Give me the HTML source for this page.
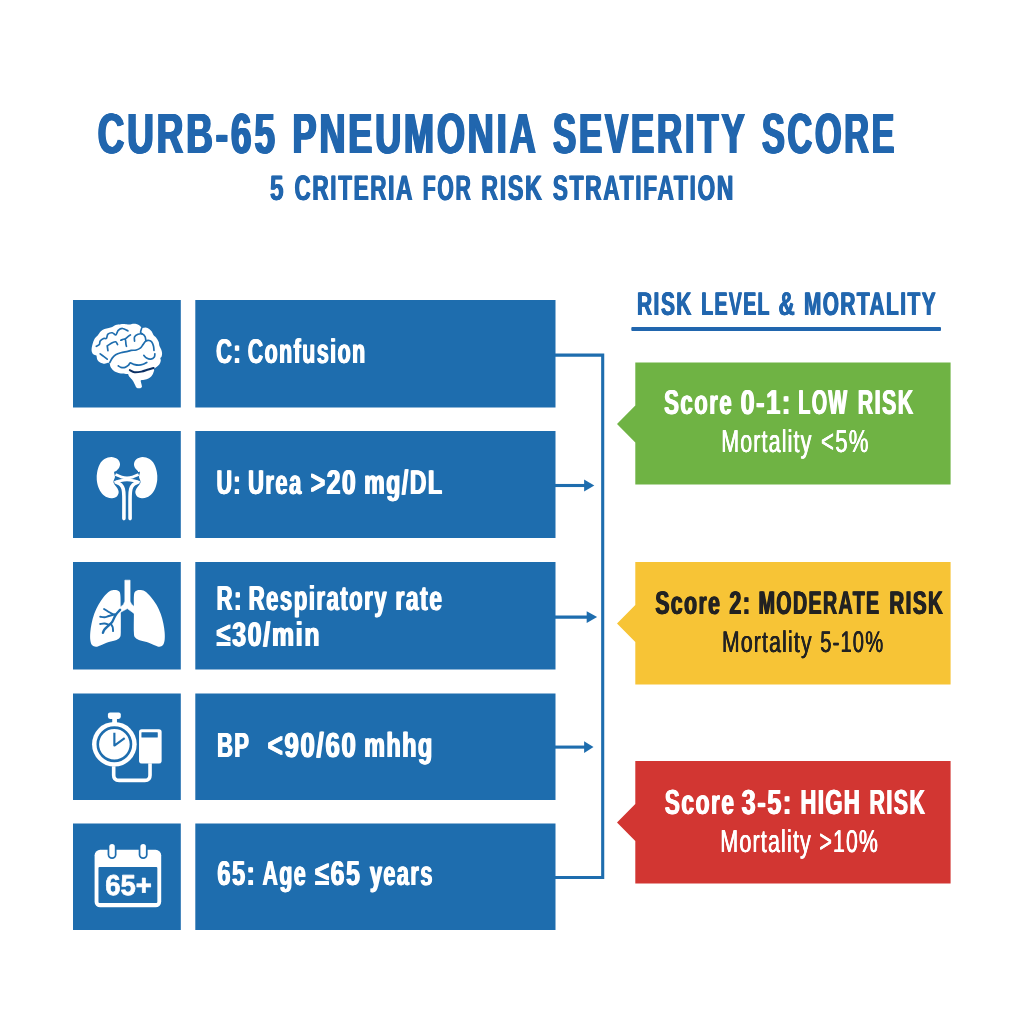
<!DOCTYPE html>
<html lang="en">
<head>
<meta charset="utf-8">
<title>CURB-65 Pneumonia Severity Score</title>
<style>
html,body{margin:0;padding:0;background:#fff;}
body{width:1024px;height:1024px;overflow:hidden;}
svg{display:block;font-family:"Liberation Sans",sans-serif;text-rendering:geometricPrecision;}
</style>
</head>
<body>
<svg width="1024" height="1024" viewBox="0 0 1024 1024">
<rect x="73" y="300" width="107.8" height="107.5" fill="#1e6dae"/>
<rect x="195.3" y="300" width="360.2" height="107.5" fill="#1e6dae"/>
<rect x="73" y="431" width="107.8" height="107" fill="#1e6dae"/>
<rect x="195.3" y="431" width="360.2" height="107" fill="#1e6dae"/>
<rect x="73" y="562" width="107.8" height="107.5" fill="#1e6dae"/>
<rect x="195.3" y="562" width="360.2" height="107.5" fill="#1e6dae"/>
<rect x="73" y="693.5" width="107.8" height="106.5" fill="#1e6dae"/>
<rect x="195.3" y="693.5" width="360.2" height="106.5" fill="#1e6dae"/>
<rect x="73" y="823.5" width="107.8" height="106.5" fill="#1e6dae"/>
<rect x="195.3" y="823.5" width="360.2" height="106.5" fill="#1e6dae"/>
<path d="M555 355.15 H602.7 V877.5 H555" fill="none" stroke="#1e6dae" stroke-width="3.1"/>
<path d="M555 485.5 H585.1" fill="none" stroke="#1e6dae" stroke-width="3.1"/>
<path d="M594.3 485.5 L584.1 479.6 V491.4 Z" fill="#1e6dae"/>
<path d="M555 617.1 H587.7" fill="none" stroke="#1e6dae" stroke-width="3.1"/>
<path d="M597.1 617.1 L586.7 611.2 V623.0 Z" fill="#1e6dae"/>
<path d="M555 747.1 H585.1" fill="none" stroke="#1e6dae" stroke-width="3.1"/>
<path d="M593.5 747.1 L584.1 741.2 V753.0 Z" fill="#1e6dae"/>
<rect x="631.3" y="327.1" width="309.7" height="3.8" rx="1" fill="#2166ae"/>
<path d="M635.3 362.5 H950.6 V484.5 H635.3 V442.5 L617 424 L635.3 405.5 Z" fill="#6fb344"/>
<path d="M635.3 562 H950.6 V684.5 H635.3 V642.0 L617 623.5 L635.3 605.0 Z" fill="#f7c436"/>
<path d="M635.3 761 H950.6 V883.5 H635.3 V841.0 L617 822.5 L635.3 804.0 Z" fill="#d23632"/>
<path d="M91.59 350.39 C91.45 348.74 91.95 346.31 92.45 344.38 C92.95 342.44 93.67 340.36 94.60 338.79 C95.53 337.21 97.04 336.14 98.04 334.92 C99.04 333.70 99.54 332.46 100.62 331.48 C101.69 330.51 103.12 329.65 104.48 329.08 C105.85 328.51 107.49 328.39 108.78 328.05 C110.07 327.70 111.07 327.52 112.22 327.02 C113.36 326.51 114.22 325.51 115.66 325.04 C117.09 324.57 119.09 324.32 120.81 324.18 C122.53 324.04 124.54 324.11 125.97 324.18 C127.40 324.25 128.26 324.68 129.41 324.61 C130.55 324.54 131.55 323.82 132.84 323.75 C134.13 323.68 135.92 323.82 137.14 324.18 C138.36 324.54 139.36 325.25 140.15 325.90 C140.94 326.54 140.94 327.76 141.87 328.05 C142.80 328.33 144.52 327.47 145.73 327.62 C146.95 327.76 148.17 328.26 149.17 328.91 C150.17 329.55 151.03 330.48 151.75 331.48 C152.47 332.49 152.75 333.92 153.47 334.92 C154.18 335.92 155.19 336.35 156.05 337.50 C156.91 338.65 158.05 340.36 158.62 341.80 C159.20 343.23 159.05 344.80 159.48 346.09 C159.91 347.38 160.77 348.39 161.20 349.53 C161.63 350.68 161.99 351.82 162.06 352.97 C162.13 354.11 161.92 355.55 161.63 356.41 C161.35 357.27 160.49 357.41 160.34 358.12 C160.20 358.84 160.92 359.70 160.77 360.70 C160.63 361.71 160.13 363.14 159.48 364.14 C158.84 365.14 157.84 365.93 156.91 366.72 C155.98 367.51 154.36 368.22 153.90 368.87 C153.44 369.51 154.37 369.65 154.16 370.59 C153.94 371.52 153.30 373.31 152.61 374.45 C151.92 375.60 151.03 376.67 150.03 377.46 C149.03 378.25 147.88 378.75 146.59 379.18 C145.30 379.61 143.27 379.80 142.30 380.04 C141.32 380.28 140.89 380.00 140.75 380.64 C140.61 381.29 141.25 382.86 141.44 383.91 C141.62 384.95 142.15 386.20 141.87 386.91 C141.58 387.63 140.58 388.06 139.72 388.20 C138.86 388.35 137.57 388.49 136.71 387.77 C135.85 387.06 135.35 385.27 134.56 383.91 C133.77 382.55 132.92 380.90 131.98 379.61 C131.05 378.32 129.62 377.06 128.98 376.17 C128.33 375.28 128.62 374.64 128.12 374.28 C127.62 373.92 127.19 374.14 125.97 374.02 C124.75 373.91 122.39 373.88 120.81 373.59 C119.24 373.31 117.80 372.88 116.52 372.30 C115.23 371.73 114.08 371.09 113.08 370.16 C112.08 369.23 111.07 367.84 110.50 366.72 C109.93 365.60 110.07 364.10 109.64 363.45 C109.21 362.81 108.78 362.81 107.92 362.85 C107.06 362.89 105.77 363.78 104.48 363.71 C103.20 363.64 101.33 362.99 100.19 362.42 C99.04 361.85 98.18 361.13 97.61 360.27 C97.04 359.41 96.96 358.05 96.75 357.27 C96.54 356.48 96.89 356.05 96.32 355.55 C95.75 355.05 94.10 355.12 93.31 354.26 C92.52 353.40 91.74 352.04 91.59 350.39Z" fill="#ffffff"/>
<path d="M109.81 362.59 C110.21 361.85 111.24 359.44 112.22 358.12 C113.19 356.81 114.22 355.59 115.66 354.69 C117.09 353.79 118.81 353.26 120.81 352.71 C122.82 352.17 125.97 351.81 127.69 351.42 C129.41 351.04 129.69 350.63 131.12 350.39 C132.56 350.15 134.71 350.39 136.28 349.96 C137.86 349.53 139.43 348.74 140.58 347.81 C141.72 346.88 142.30 345.49 143.16 344.38 C144.02 343.26 144.73 341.75 145.73 341.11 C146.74 340.46 148.17 340.36 149.17 340.51 C150.17 340.65 151.03 341.04 151.75 341.97 C152.47 342.90 153.10 344.69 153.47 346.09 C153.84 347.50 153.90 349.67 153.98 350.39" fill="none" stroke="#1e6dae" stroke-width="1.7" stroke-linecap="round" stroke-linejoin="round"/>
<path d="M143.84 355.38 C144.30 355.83 145.42 357.49 146.59 358.12 C147.77 358.76 149.60 359.34 150.89 359.16 C152.18 358.97 153.67 357.90 154.33 357.01 C154.99 356.12 154.76 354.36 154.84 353.83" fill="none" stroke="#1e6dae" stroke-width="1.7" stroke-linecap="round" stroke-linejoin="round"/>
<path d="M118.23 365.86 C118.66 366.10 119.67 367.08 120.81 367.32 C121.96 367.56 123.82 367.68 125.11 367.32 C126.40 366.96 127.69 365.92 128.55 365.17 C129.41 364.43 129.41 362.99 130.27 362.85 C131.12 362.71 132.27 363.93 133.70 364.31 C135.14 364.70 137.28 365.17 138.86 365.17 C140.43 365.17 141.84 364.77 143.16 364.31 C144.47 363.85 146.16 362.74 146.77 362.42" fill="none" stroke="#1e6dae" stroke-width="1.7" stroke-linecap="round" stroke-linejoin="round"/>
<path d="M96.32 346.27 C96.82 345.98 98.68 345.41 99.33 344.55 C99.97 343.69 99.47 342.11 100.19 341.11 C100.90 340.11 102.59 338.99 103.62 338.53 C104.66 338.07 105.66 339.08 106.38 338.36 C107.09 337.64 106.95 335.17 107.92 334.23 C108.90 333.30 110.90 332.66 112.22 332.77 C113.54 332.89 114.83 335.32 115.83 334.92 C116.83 334.52 117.12 331.44 118.23 330.37 C119.35 329.29 120.93 328.40 122.53 328.48 C124.14 328.55 126.97 330.41 127.86 330.80" fill="none" stroke="#1e6dae" stroke-width="1.7" stroke-linecap="round" stroke-linejoin="round"/>
<path d="M107.23 345.92 L107.92 350.56" fill="none" stroke="#1e6dae" stroke-width="1.7" stroke-linecap="round" stroke-linejoin="round"/>
<path d="M107.92 345.41 C108.64 344.98 110.93 343.43 112.22 342.83 C113.51 342.23 114.77 341.51 115.66 341.80 C116.54 342.08 117.23 344.09 117.55 344.55" fill="none" stroke="#1e6dae" stroke-width="1.7" stroke-linecap="round" stroke-linejoin="round"/>
<path d="M120.81 340.25 C121.53 340.08 124.25 338.53 125.11 339.22 C125.97 339.91 125.74 343.20 125.97 344.38 C126.20 345.55 126.40 345.95 126.48 346.27" fill="none" stroke="#1e6dae" stroke-width="1.7" stroke-linecap="round" stroke-linejoin="round"/>
<path d="M125.11 339.22 C125.54 338.82 126.80 337.53 127.69 336.81 C128.58 336.10 129.98 335.24 130.44 334.92" fill="none" stroke="#1e6dae" stroke-width="1.7" stroke-linecap="round" stroke-linejoin="round"/>
<path d="M134.56 341.11 C134.56 340.39 133.99 337.96 134.56 336.81 C135.14 335.67 136.71 334.69 138.00 334.23 C139.29 333.78 141.12 333.66 142.30 334.06 C143.47 334.46 144.45 335.49 145.05 336.64 C145.65 337.79 145.76 340.22 145.91 340.94" fill="none" stroke="#1e6dae" stroke-width="1.7" stroke-linecap="round" stroke-linejoin="round"/>
<path d="M141.61 328.48 C141.44 329.12 140.46 331.41 140.58 332.34 C140.69 333.27 142.01 333.78 142.30 334.06" fill="none" stroke="#1e6dae" stroke-width="1.7" stroke-linecap="round" stroke-linejoin="round"/>
<path d="M100.19 353.83 C100.76 354.26 102.45 355.52 103.62 356.41 C104.80 357.29 106.63 358.70 107.23 359.16" fill="none" stroke="#1e6dae" stroke-width="1.7" stroke-linecap="round" stroke-linejoin="round"/>
<path d="M129.84 370.16 C130.62 370.51 132.63 372.06 134.56 372.30 C136.50 372.55 139.15 372.09 141.44 371.62 C143.73 371.14 146.28 370.08 148.31 369.47 C150.35 368.85 152.75 368.18 153.64 367.92" fill="none" stroke="#0b2f63" stroke-width="2" stroke-linecap="round"/>
<path d="M111.36 456.90 C113.51 456.90 115.94 457.94 117.38 459.05 C118.81 460.15 119.67 462.05 119.95 463.52 C120.24 464.98 119.67 466.62 119.09 467.81 C118.52 469.00 117.35 469.93 116.52 470.65 C115.68 471.36 114.37 471.04 114.11 472.11 C113.85 473.18 115.07 475.38 114.97 477.09 C114.87 478.81 113.11 480.56 113.51 482.42 C113.91 484.28 116.52 486.58 117.38 488.27 C118.23 489.96 118.81 491.13 118.66 492.56 C118.52 493.99 117.59 495.93 116.52 496.86 C115.44 497.79 113.79 498.08 112.22 498.15 C110.64 498.22 108.78 498.08 107.06 497.29 C105.34 496.50 103.34 495.07 101.91 493.42 C100.47 491.77 99.33 489.70 98.47 487.41 C97.61 485.11 96.96 482.25 96.75 479.67 C96.54 477.09 96.68 474.52 97.18 471.94 C97.68 469.36 98.54 466.35 99.76 464.20 C100.98 462.05 102.55 460.26 104.48 459.05 C106.42 457.83 109.21 456.90 111.36 456.90Z" fill="#ffffff"/>
<path d="M142.64 456.90 C140.49 456.90 138.06 457.94 136.62 459.05 C135.19 460.15 134.33 462.05 134.05 463.52 C133.76 464.98 134.33 466.62 134.91 467.81 C135.48 469.00 136.65 469.93 137.48 470.65 C138.32 471.36 139.63 471.04 139.89 472.11 C140.15 473.18 138.93 475.38 139.03 477.09 C139.13 478.81 140.89 480.56 140.49 482.42 C140.09 484.28 137.48 486.58 136.62 488.27 C135.77 489.96 135.19 491.13 135.34 492.56 C135.48 493.99 136.41 495.93 137.48 496.86 C138.56 497.79 140.21 498.08 141.78 498.15 C143.36 498.22 145.22 498.08 146.94 497.29 C148.66 496.50 150.66 495.07 152.09 493.42 C153.53 491.77 154.67 489.70 155.53 487.41 C156.39 485.11 157.04 482.25 157.25 479.67 C157.46 477.09 157.32 474.52 156.82 471.94 C156.32 469.36 155.46 466.35 154.24 464.20 C153.02 462.05 151.45 460.26 149.52 459.05 C147.58 457.83 144.79 456.90 142.64 456.90Z" fill="#ffffff"/>
<path d="M115.48 474.52 C116.52 474.95 119.75 476.55 121.67 477.09 C123.59 477.64 125.21 477.78 127.00 477.78 C128.79 477.78 130.48 477.64 132.41 477.09 C134.35 476.55 137.57 474.95 138.60 474.52" fill="none" stroke="#ffffff" stroke-width="2.8" stroke-linecap="butt"/>
<path d="M114.45 482.59 C115.51 482.25 118.72 480.99 120.81 480.53 C122.90 480.07 124.92 479.84 127.00 479.84 C129.08 479.84 131.17 480.07 133.27 480.53 C135.38 480.99 138.57 482.25 139.63 482.59" fill="none" stroke="#ffffff" stroke-width="2.8" stroke-linecap="butt"/>
<path d="M116.95 482.42 C117.59 482.79 119.77 483.57 120.81 484.66 C121.86 485.74 122.70 487.06 123.22 488.95 C123.73 490.84 123.79 491.06 123.91 496.00 C124.02 500.94 123.91 514.83 123.91 518.60" fill="none" stroke="#ffffff" stroke-width="3.6" stroke-linecap="round"/>
<path d="M137.05 482.42 C136.41 482.79 134.23 483.57 133.19 484.66 C132.14 485.74 131.30 487.06 130.78 488.95 C130.27 490.84 130.21 491.06 130.09 496.00 C129.98 500.94 130.09 514.83 130.09 518.60" fill="none" stroke="#ffffff" stroke-width="3.6" stroke-linecap="round"/>
<path d="M114.80 590.05 C116.34 590.05 117.99 590.48 118.92 591.34 C119.85 592.20 120.10 592.70 120.38 595.20 C120.67 597.71 120.57 603.08 120.64 606.38 C120.71 609.67 120.78 610.67 120.81 614.97 C120.84 619.27 120.96 628.43 120.81 632.16 C120.67 635.88 120.67 636.02 119.95 637.31 C119.24 638.60 118.38 639.10 116.52 639.89 C114.65 640.68 111.50 641.11 108.78 642.04 C106.06 642.97 102.34 644.69 100.19 645.48 C98.04 646.26 97.25 646.84 95.89 646.77 C94.53 646.69 92.95 646.19 92.02 645.05 C91.09 643.90 90.59 642.04 90.30 639.89 C90.02 637.74 90.09 634.88 90.30 632.16 C90.52 629.43 90.95 626.57 91.59 623.56 C92.24 620.55 93.03 617.26 94.17 614.11 C95.32 610.96 96.89 607.52 98.47 604.66 C100.04 601.79 101.76 599.14 103.62 596.92 C105.49 594.70 107.78 592.48 109.64 591.34 C111.50 590.19 113.25 590.05 114.80 590.05Z" fill="#ffffff"/>
<path d="M139.72 590.05 C138.17 590.05 136.55 590.48 135.59 591.34 C134.63 592.20 134.25 592.70 133.96 595.20 C133.67 597.71 133.89 603.08 133.88 606.38 C133.86 609.67 133.88 610.67 133.88 614.97 C133.88 619.27 133.69 628.43 133.88 632.16 C134.06 635.88 134.16 636.02 134.99 637.31 C135.82 638.60 136.93 639.10 138.86 639.89 C140.79 640.68 143.87 641.11 146.59 642.04 C149.32 642.97 153.04 644.69 155.19 645.48 C157.34 646.26 158.20 646.84 159.48 646.77 C160.77 646.69 162.06 646.19 162.92 645.05 C163.78 643.90 164.35 642.04 164.64 639.89 C164.93 637.74 164.86 634.88 164.64 632.16 C164.43 629.43 164.00 626.57 163.35 623.56 C162.71 620.55 161.92 617.26 160.77 614.11 C159.63 610.96 158.12 607.52 156.48 604.66 C154.83 601.79 152.82 599.14 150.89 596.92 C148.96 594.70 146.74 592.48 144.88 591.34 C143.01 590.19 141.27 590.05 139.72 590.05Z" fill="#ffffff"/>
<path d="M124.85 580.16 L130.09 580.16 L130.09 601.22 L131.30 603.97 L134.13 606.55 L134.13 613.42 L127.34 608.61 L120.12 612.56 L119.78 607.41 L123.39 604.66 L124.85 601.22Z" fill="#ffffff" stroke="#ffffff" stroke-width="0.6" stroke-linejoin="round"/>
<path d="M120.12 609.81 C119.38 610.67 116.97 612.96 115.66 614.97 C114.34 616.97 113.36 620.12 112.22 621.84 C111.07 623.56 110.07 623.99 108.78 625.28 C107.49 626.57 105.46 628.32 104.48 629.58 C103.51 630.84 103.20 632.30 102.94 632.84" fill="none" stroke="#1e6dae" stroke-width="2.4" stroke-linecap="round"/>
<path d="M113.08 614.28 C112.29 613.85 109.86 612.59 108.35 611.70 C106.85 610.82 104.77 609.41 104.05 608.95" fill="none" stroke="#1e6dae" stroke-width="1.9" stroke-linecap="round"/>
<path d="M114.97 614.28 C113.94 614.57 110.53 615.51 108.78 616.00 C107.03 616.49 105.92 617.09 104.48 617.20 C103.05 617.32 100.90 616.77 100.19 616.69" fill="none" stroke="#1e6dae" stroke-width="1.9" stroke-linecap="round"/>
<path d="M108.78 624.59 C108.07 624.42 105.92 623.66 104.48 623.56 C103.05 623.46 100.90 623.92 100.19 623.99" fill="none" stroke="#1e6dae" stroke-width="1.9" stroke-linecap="round"/>
<path d="M110.67 623.73 C111.00 624.28 112.25 625.77 112.65 627.00 C113.05 628.23 113.01 630.44 113.08 631.12" fill="none" stroke="#1e6dae" stroke-width="1.9" stroke-linecap="round"/>
<circle cx="114.37" cy="744.25" r="22.34" fill="#ffffff"/>
<circle cx="114.37" cy="744.25" r="16.59" fill="none" stroke="#1e6dae" stroke-width="2.58"/>
<rect x="107.92" y="712.45" width="12.89" height="6.45" rx="2.15" fill="#ffffff"/>
<rect x="112.22" y="717.61" width="4.73" height="6.02" fill="#ffffff"/>
<path d="M114.37 732.65 L114.37 745.54 L124.68 738.23" fill="none" stroke="#1e6dae" stroke-width="2.15" stroke-linejoin="round"/>
<rect x="139.03" y="729.21" width="22.60" height="34.38" rx="2.75" fill="#ffffff"/>
<rect x="141.44" y="732.22" width="16.33" height="5.33" rx="0.52" fill="#1e6dae"/>
<path d="M113.68 766.16 L113.68 775.19 Q113.68 780.34 119.09 780.34 L144.88 780.34 Q150.03 780.34 150.03 775.19 L150.03 763.16" fill="none" stroke="#ffffff" stroke-width="3.61"/>
<rect x="94.60" y="849.76" width="66.60" height="57.58" rx="5.59" fill="#ffffff"/>
<rect x="98.47" y="866.95" width="58.87" height="36.09" rx="1.03" fill="#1e6dae"/>
<rect x="107.58" y="843.74" width="8.94" height="15.30" rx="4.47" fill="#1e6dae"/>
<rect x="109.30" y="844.00" width="5.50" height="13.32" rx="2.75" fill="#ffffff"/>
<rect x="138.69" y="843.74" width="8.94" height="15.30" rx="4.47" fill="#1e6dae"/>
<rect x="140.41" y="844.00" width="5.50" height="13.32" rx="2.75" fill="#ffffff"/>
<text x="105.22" y="894.58" font-size="28.8" font-weight="bold" fill="#ffffff" stroke="#ffffff" stroke-width="0.7" stroke-linejoin="round" textLength="46.73" lengthAdjust="spacingAndGlyphs">65+</text>
<text y="153" font-size="56.58" font-weight="bold" fill="#2166ae" style="letter-spacing:4.6px;text-shadow:1.55px 0 0 #2166ae,-1.55px 0 0 #2166ae,0.78px 0 0 #2166ae,-0.78px 0 0 #2166ae"><tspan x="97.75" textLength="180.19" lengthAdjust="spacingAndGlyphs">CURB-65</tspan> <tspan x="292.55" textLength="244.65" lengthAdjust="spacingAndGlyphs">PNEUMONIA</tspan> <tspan x="553.00" textLength="193.82" lengthAdjust="spacingAndGlyphs">SEVERITY</tspan> <tspan x="762.00" textLength="135.22" lengthAdjust="spacingAndGlyphs">SCORE</tspan></text>
<text y="200" font-size="35.35" font-weight="bold" fill="#2166ae" style="letter-spacing:2.6px;text-shadow:0.90px 0 0 #2166ae,-0.90px 0 0 #2166ae"><tspan x="270.00" textLength="15.29" lengthAdjust="spacingAndGlyphs">5</tspan> <tspan x="294.50" textLength="118.64" lengthAdjust="spacingAndGlyphs">CRITERIA</tspan> <tspan x="422.75" textLength="49.63" lengthAdjust="spacingAndGlyphs">FOR</tspan> <tspan x="481.25" textLength="62.33" lengthAdjust="spacingAndGlyphs">RISK</tspan> <tspan x="552.75" textLength="182.22" lengthAdjust="spacingAndGlyphs">STRATIFATION</tspan></text>
<text y="363" font-size="34.33" font-weight="bold" fill="#fff" style="letter-spacing:2.4px;text-shadow:1.00px 0 0 #fff,-1.00px 0 0 #fff"><tspan x="216.05" textLength="26.19" lengthAdjust="spacingAndGlyphs">C:</tspan> <tspan x="247.75" textLength="118.80" lengthAdjust="spacingAndGlyphs">Confusion</tspan></text>
<text y="494" font-size="34.33" font-weight="bold" fill="#fff" style="letter-spacing:2.4px;text-shadow:1.00px 0 0 #fff,-1.00px 0 0 #fff"><tspan x="216.60" textLength="25.46" lengthAdjust="spacingAndGlyphs">U:</tspan> <tspan x="248.10" textLength="54.76" lengthAdjust="spacingAndGlyphs">Urea</tspan> <tspan x="310.70" textLength="46.73" lengthAdjust="spacingAndGlyphs">&gt;20</tspan> <tspan x="364.25" textLength="79.32" lengthAdjust="spacingAndGlyphs">mg/DL</tspan></text>
<text y="610" font-size="34.62" font-weight="bold" fill="#fff" style="letter-spacing:2.4px;text-shadow:1.00px 0 0 #fff,-1.00px 0 0 #fff"><tspan x="216.70" textLength="26.23" lengthAdjust="spacingAndGlyphs">R:</tspan> <tspan x="248.75" textLength="139.33" lengthAdjust="spacingAndGlyphs">Respiratory</tspan> <tspan x="395.50" textLength="48.13" lengthAdjust="spacingAndGlyphs">rate</tspan></text>
<text y="646" font-size="34.04" font-weight="bold" fill="#fff" style="letter-spacing:2.4px;text-shadow:1.00px 0 0 #fff,-1.00px 0 0 #fff"><tspan x="216.85" textLength="104.42" lengthAdjust="spacingAndGlyphs">≤30/min</tspan></text>
<text y="757" font-size="34.91" font-weight="bold" fill="#fff" style="letter-spacing:2.4px;text-shadow:1.00px 0 0 #fff,-1.00px 0 0 #fff"><tspan x="217.05" textLength="32.90" lengthAdjust="spacingAndGlyphs">BP</tspan> <tspan x="267.75" textLength="89.81" lengthAdjust="spacingAndGlyphs">&lt;90/60</tspan> <tspan x="364.25" textLength="69.55" lengthAdjust="spacingAndGlyphs">mhhg</tspan></text>
<text y="885" font-size="34.47" font-weight="bold" fill="#fff" style="letter-spacing:2.4px;text-shadow:1.00px 0 0 #fff,-1.00px 0 0 #fff"><tspan x="217.45" textLength="38.76" lengthAdjust="spacingAndGlyphs">65:</tspan> <tspan x="262.50" textLength="44.63" lengthAdjust="spacingAndGlyphs">Age</tspan> <tspan x="315.25" textLength="46.41" lengthAdjust="spacingAndGlyphs">≤65</tspan> <tspan x="370.00" textLength="63.88" lengthAdjust="spacingAndGlyphs">years</tspan></text>
<text y="315" font-size="32.87" font-weight="bold" fill="#2166ae" style="letter-spacing:2.3px;text-shadow:0.80px 0 0 #2166ae,-0.80px 0 0 #2166ae"><tspan x="637.00" textLength="55.98" lengthAdjust="spacingAndGlyphs">RISK</tspan> <tspan x="701.25" textLength="69.21" lengthAdjust="spacingAndGlyphs">LEVEL</tspan> <tspan x="778.50" textLength="17.80" lengthAdjust="spacingAndGlyphs">&amp;</tspan> <tspan x="803.90" textLength="133.11" lengthAdjust="spacingAndGlyphs">MORTALITY</tspan></text>
<text y="414" font-size="34.47" font-weight="bold" fill="#fff" style="letter-spacing:2.3px;text-shadow:0.90px 0 0 #fff,-0.90px 0 0 #fff"><tspan x="664.15" textLength="68.99" lengthAdjust="spacingAndGlyphs">Score</tspan> <tspan x="740.55" textLength="51.38" lengthAdjust="spacingAndGlyphs">0-1:</tspan> <tspan x="798.25" textLength="50.12" lengthAdjust="spacingAndGlyphs">LOW</tspan> <tspan x="857.75" textLength="56.86" lengthAdjust="spacingAndGlyphs">RISK</tspan></text>
<text y="452" font-size="31.56" font-weight="normal" fill="#fff" style="letter-spacing:1.7px;text-shadow:0.40px 0 0 #fff,-0.40px 0 0 #fff"><tspan x="721.20" textLength="91.31" lengthAdjust="spacingAndGlyphs">Mortality</tspan> <tspan x="821.05" textLength="48.56" lengthAdjust="spacingAndGlyphs">&lt;5%</tspan></text>
<text y="614" font-size="32.73" font-weight="bold" fill="#222222" style="letter-spacing:2.3px;text-shadow:0.90px 0 0 #222222,-0.90px 0 0 #222222"><tspan x="655.30" textLength="66.12" lengthAdjust="spacingAndGlyphs">Score</tspan> <tspan x="729.45" textLength="21.97" lengthAdjust="spacingAndGlyphs">2:</tspan> <tspan x="758.60" textLength="121.93" lengthAdjust="spacingAndGlyphs">MODERATE</tspan> <tspan x="889.40" textLength="54.87" lengthAdjust="spacingAndGlyphs">RISK</tspan></text>
<text y="652" font-size="29.96" font-weight="normal" fill="#222222" style="letter-spacing:1.7px;text-shadow:0.40px 0 0 #222222,-0.40px 0 0 #222222"><tspan x="722.05" textLength="90.70" lengthAdjust="spacingAndGlyphs">Mortality</tspan> <tspan x="820.30" textLength="63.95" lengthAdjust="spacingAndGlyphs">5-10%</tspan></text>
<text y="814" font-size="34.76" font-weight="bold" fill="#fff" style="letter-spacing:2.3px;text-shadow:0.90px 0 0 #fff,-0.90px 0 0 #fff"><tspan x="664.75" textLength="70.73" lengthAdjust="spacingAndGlyphs">Score</tspan> <tspan x="741.70" textLength="51.22" lengthAdjust="spacingAndGlyphs">3-5:</tspan> <tspan x="800.55" textLength="60.63" lengthAdjust="spacingAndGlyphs">HIGH</tspan> <tspan x="869.55" textLength="56.75" lengthAdjust="spacingAndGlyphs">RISK</tspan></text>
<text y="852" font-size="31.56" font-weight="normal" fill="#fff" style="letter-spacing:1.7px;text-shadow:0.40px 0 0 #fff,-0.40px 0 0 #fff"><tspan x="720.30" textLength="91.72" lengthAdjust="spacingAndGlyphs">Mortality</tspan> <tspan x="819.40" textLength="59.54" lengthAdjust="spacingAndGlyphs">&gt;10%</tspan></text>
</svg>
</body>
</html>
